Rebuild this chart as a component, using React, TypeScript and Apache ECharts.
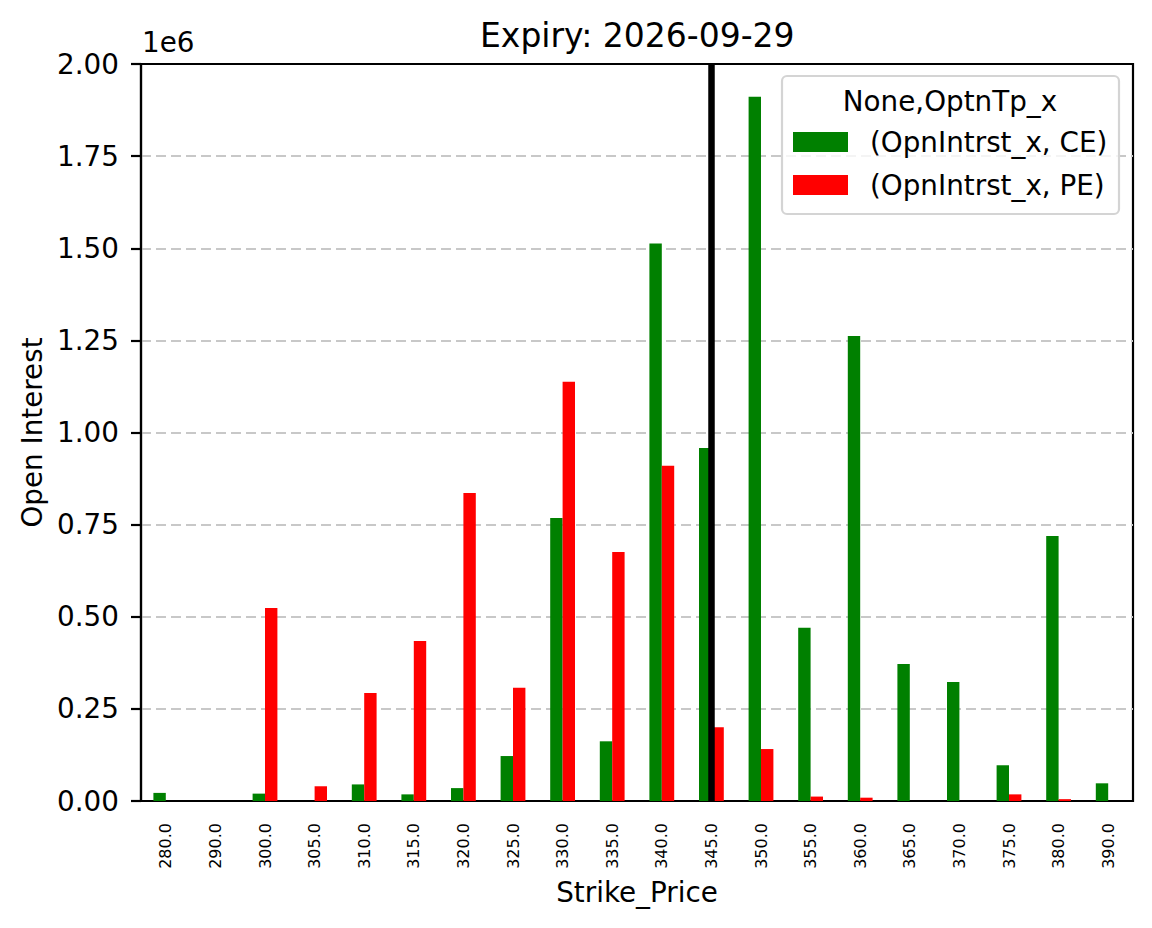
import React, { useEffect, useRef } from 'react';
import * as echarts from 'echarts';

const strikes = [
  '280.0', '290.0', '300.0', '305.0', '310.0', '315.0', '320.0', '325.0', '330.0', '335.0',
  '340.0', '345.0', '350.0', '355.0', '360.0', '365.0', '370.0', '375.0', '380.0', '390.0',
];
const ceOI = [
  22000, 0, 20000, 0, 45000, 18000, 35000, 122000, 768000, 162000,
  1513000, 958000, 1911000, 470000, 1262000, 372000, 323000, 97000, 719000, 48000,
];
const peOI = [
  0, 0, 524000, 40000, 293000, 434000, 836000, 307000, 1138000, 676000,
  910000, 200000, 141000, 12000, 9000, 0, 0, 18000, 5000, 0,
];
const spotStrike = '345.0';
const titleText = 'Expiry: 2026-09-29';
const legendTitle = 'None,OptnTp_x';
const seriesNames = ['(OpnIntrst_x, CE)', '(OpnIntrst_x, PE)'];

const FONT = 'DejaVu Sans';

export default function App() {
  const chartRef = useRef<HTMLDivElement | null>(null);

  useEffect(() => {
    if (!chartRef.current) return;
    const inst = echarts.init(chartRef.current, undefined, { renderer: 'svg' });
    inst.setOption({
      animation: false,
      backgroundColor: '#fff',
      textStyle: { fontFamily: FONT, color: '#000' },
      title: {
        text: titleText,
        left: 475,
        top: 14,
        textStyle: { fontFamily: FONT, fontSize: 33, fontWeight: 'normal', color: '#000' },
      },
      grid: {
        left: 141,
        right: 19,
        top: 64,
        bottom: 127,
        show: true,
        borderColor: '#000',
        borderWidth: 2.2,
      },
      legend: {
        orient: 'vertical',
        left: 793,
        top: 128,
        padding: 0,
        z: 20,
        itemWidth: 55,
        itemHeight: 20,
        itemGap: 15,
        icon: 'rect',
        data: seriesNames,
        textStyle: { fontFamily: FONT, fontSize: 27.8, color: '#000', lineHeight: 28, padding: [0, 0, 0, 17] },
      },
      graphic: [
        {
          type: 'rect',
          shape: { x: 782, y: 76, width: 337, height: 138, r: 5 },
          style: { fill: 'rgba(255,255,255,0.8)', stroke: '#d4d4d4', lineWidth: 2.2 },
          z: 3,
        },
        {
          type: 'text',
          x: 950,
          y: 101,
          z: 21,
          style: {
            text: legendTitle,
            fontFamily: FONT,
            fontSize: 27.8,
            fill: '#000',
            align: 'center',
            verticalAlign: 'middle',
          },
        },
        {
          type: 'text',
          x: 142,
          y: 56,
          style: {
            text: '1e6',
            fontFamily: FONT,
            fontSize: 27.8,
            fill: '#000',
            align: 'left',
            verticalAlign: 'bottom',
          },
        },
      ],
      xAxis: [
        {
          type: 'category',
          data: strikes,
          name: 'Strike_Price',
          nameLocation: 'middle',
          nameGap: 77,
          nameTextStyle: { fontFamily: FONT, fontSize: 27.8, color: '#000' },
          axisLine: { lineStyle: { color: '#000', width: 2.2 } },
          axisTick: { alignWithLabel: true, length: 10, lineStyle: { color: '#000', width: 2.2 } },
          axisLabel: { rotate: 90, fontSize: 16, margin: 22, color: '#000', fontFamily: FONT },
          splitLine: { show: false },
        },
        {
          type: 'category',
          data: strikes,
          position: 'top',
          axisLine: { show: true, lineStyle: { color: '#000', width: 2.2 } },
          axisTick: { show: false },
          axisLabel: { show: false },
          splitLine: { show: false },
        },
      ],
      yAxis: {
        type: 'value',
        min: 0,
        max: 2000000,
        interval: 250000,
        name: 'Open Interest',
        nameLocation: 'middle',
        nameGap: 95,
        nameTextStyle: { fontFamily: FONT, fontSize: 27.8, color: '#000' },
        axisLine: { show: true, lineStyle: { color: '#000', width: 2.2 } },
        axisTick: { show: true, length: 10, lineStyle: { color: '#000', width: 2.2 } },
        axisLabel: {
          fontSize: 27.8,
          margin: 22,
          color: '#000',
          fontFamily: FONT,
          formatter: (v: number) => (v / 1e6).toFixed(2),
        },
        splitLine: { show: true, lineStyle: { color: '#c8c8c8', width: 2.2, type: [10, 5] } },
      },
      series: [
        {
          name: seriesNames[0],
          type: 'bar',
          data: ceOI,
          barWidth: 12.4,
          barGap: '0%',
          itemStyle: { color: '#008000' },
        },
        {
          name: seriesNames[1],
          type: 'bar',
          data: peOI,
          barWidth: 12.4,
          barGap: '0%',
          itemStyle: { color: '#ff0000' },
        },
        {
          name: 'spot',
          type: 'line',
          data: [],
          z: 5,
          markLine: {
            silent: true,
            symbol: ['none', 'none'],
            label: { show: false },
            lineStyle: { color: '#000', width: 6.5, type: 'solid' },
            data: [{ xAxis: spotStrike }],
          },
        },
      ],
    });
    return () => {
      inst.dispose();
    };
  }, []);

  return (
    <div
      ref={chartRef}
      style={{ position: 'fixed', left: 0, top: 0, width: 1152, height: 928, background: '#fff' }}
    />
  );
}
